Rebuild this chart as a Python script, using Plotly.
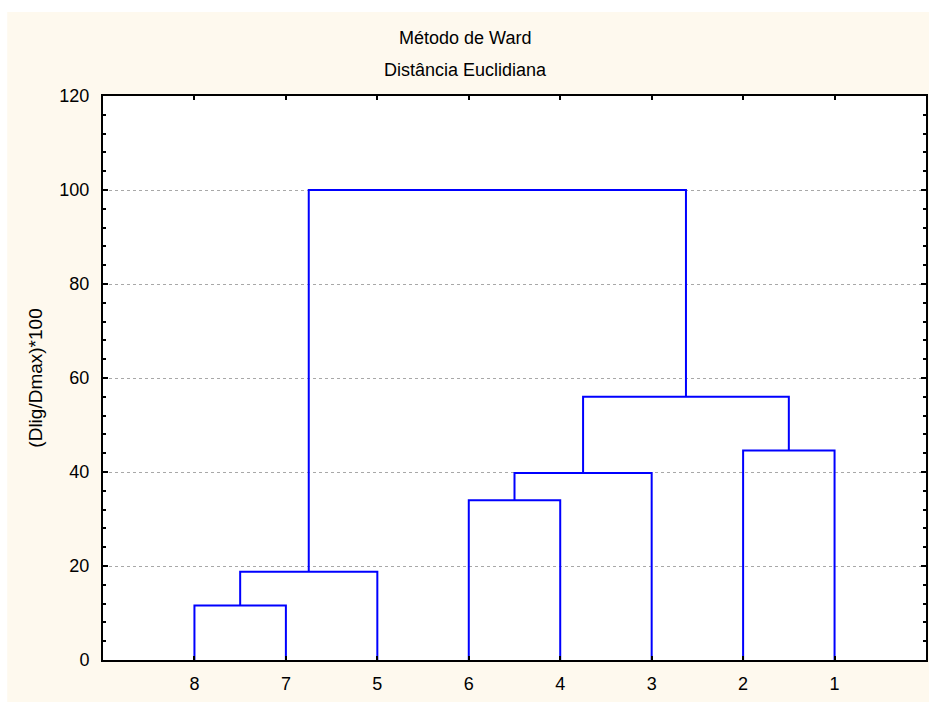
import plotly.graph_objects as go

# Leaf order along the horizontal axis
leaves = ["8", "7", "5", "6", "4", "3", "2", "1"]

# Agglomeration steps (Ward linkage): members joined and linkage distance
merge_left = ["8", "C1", "6", "C3", "2", "C4", "C2"]
merge_right = ["7", "5", "4", "3", "1", "C5", "C6"]
merge_height = [11.6, 18.8, 34.0, 39.8, 44.6, 56.0, 100.0]

y_ticks = [0, 20, 40, 60, 80, 100, 120]

# Walk the linkage and build the dendrogram polylines
pos = {lab: i + 1 for i, lab in enumerate(leaves)}
hgt = {lab: 0.0 for lab in leaves}
xs, ys = [], []
for k, (a, b, h) in enumerate(zip(merge_left, merge_right, merge_height), start=1):
    xa, xb = pos[a], pos[b]
    xs += [xa, xa, xb, xb, None]
    ys += [hgt[a], h, h, hgt[b], None]
    name = f"C{k}"
    pos[name] = (xa + xb) / 2
    hgt[name] = h

FONT = "Liberation Sans, Arial, sans-serif"
CREAM = "#FEF9EE"

fig = go.Figure()
fig.add_trace(go.Scatter(
    x=xs, y=ys, mode="lines",
    line=dict(color="#0000FF", width=2),
    hoverinfo="skip", showlegend=False,
))

# Plot-area geometry in pixels (used to place the cream panel behind everything)
L, R, T, B, W, H = 103, 5, 96, 42, 933, 702
pw, ph = W - L - R, H - T - B


def px_x(p):
    return (p - L) / pw


def px_y(p):
    return (H - B - p) / ph


fig.add_shape(type="rect", xref="paper", yref="paper", layer="below",
              x0=px_x(7), x1=px_x(931), y0=px_y(702), y1=px_y(12),
              fillcolor=CREAM, line=dict(width=0))
fig.add_shape(type="rect", xref="paper", yref="paper", layer="below",
              x0=0, x1=1, y0=0, y1=1, fillcolor="white", line=dict(width=0))

fig.add_annotation(text="Método de Ward", xref="paper", yref="paper",
                   x=px_x(466), y=px_y(38), showarrow=False,
                   xanchor="center", yanchor="middle",
                   font=dict(family=FONT, size=18, color="black"))
fig.add_annotation(text="Distância Euclidiana", xref="paper", yref="paper",
                   x=px_x(466), y=px_y(70), showarrow=False,
                   xanchor="center", yanchor="middle",
                   font=dict(family=FONT, size=18, color="black"))

fig.update_layout(
    width=W, height=H,
    margin=dict(l=L, r=R, t=T, b=B, pad=0),
    paper_bgcolor="white", plot_bgcolor="white",
    font=dict(family=FONT, size=18, color="black"),
    xaxis=dict(
        range=[0, 9], tickvals=list(range(1, len(leaves) + 1)), ticktext=leaves,
        showgrid=False, zeroline=False,
        showline=True, linecolor="black", linewidth=2, mirror="ticks",
        ticks="inside", ticklen=4, tickwidth=2, tickcolor="black",
        ticklabelstandoff=6,
    ),
    yaxis=dict(
        range=[0, 120], tickvals=y_ticks,
        showgrid=True, gridcolor="#A8A8A8", griddash="dot", gridwidth=1,
        zeroline=False,
        showline=True, linecolor="black", linewidth=2, mirror="ticks",
        ticks="inside", ticklen=5, tickwidth=2, tickcolor="black",
        minor=dict(dtick=4, ticks="inside", ticklen=3, tickwidth=2,
                   tickcolor="black", showgrid=False),
        ticklabelstandoff=8,
        title=dict(text="(Dlig/Dmax)*100", standoff=12,
                   font=dict(family=FONT, size=19)),
    ),
)

fig.write_html("out.html")
